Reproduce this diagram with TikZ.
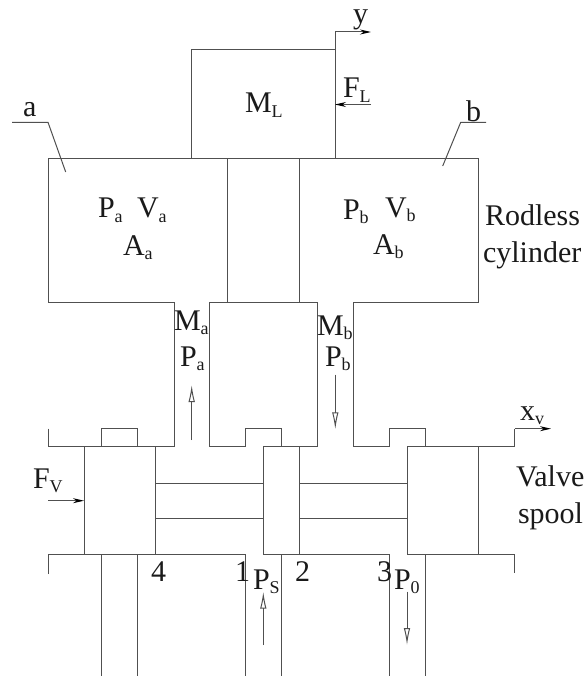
\documentclass[tikz,border=0pt]{standalone}
\usepackage{fontspec}
\setmainfont{Liberation Serif}
\usetikzlibrary{arrows.meta}
\newcommand\subt[2]{#1\raisebox{-4.5pt}{\fontsize{18}{18}\selectfont #2}}
\definecolor{ln}{HTML}{505050}
\definecolor{tx}{HTML}{1A1A1A}
\tikzset{
  wall/.style={draw=ln,line width=1pt,line join=miter},
  solidtip/.style={wall,-{Stealth[length=11pt,width=5pt,color=black]}},
  hollowtip/.style={wall,-{Latex[open,length=17pt,width=6.5pt]}},
  lab/.style={anchor=base west,inner sep=0pt,outer sep=0pt,text=tx,font=\fontsize{30}{30}\selectfont}
}
\begin{document}
\begin{tikzpicture}[x=1pt,y=-1pt]
\useasboundingbox (0,0) rectangle (586,676);
% load mass and y output
\draw[wall] (191.5,158.5) -- (191.5,50) -- (335,50);
\draw[wall] (335,158.5) -- (335,32);
\draw[solidtip] (335,32) -- (371,32);
\draw[solidtip] (371,104.5) -- (335,104.5);
% cylinder
\draw[wall] (174,446.7) -- (174,302.5) -- (48,302.5) -- (48,158.5) -- (478.7,158.5) -- (478.7,302.5) -- (353.3,302.5) -- (353.3,446.7);
\draw[wall] (227,158.5) -- (227,302.5) (299.5,158.5) -- (299.5,302.5);
\draw[wall] (209.3,446.7) -- (209.3,302.5) -- (317.3,302.5) -- (317.3,446.7);
% leaders
\draw[wall] (12,122.3) -- (48,122.3) -- (65.7,172);
\draw[wall] (486,122.3) -- (460.7,122.3) -- (442.7,166);
% upper valve body
\draw[wall] (48,428.7) -- (48,446.7) -- (101.5,446.7) -- (101.5,428.7) -- (137.7,428.7) -- (137.7,446.7) -- (174,446.7);
\draw[wall] (209.3,446.7) -- (245.3,446.7) -- (245.3,428.7) -- (281.3,428.7) -- (281.3,446.7) -- (317.3,446.7);
\draw[wall] (353.3,446.7) -- (389,446.7) -- (389,428.7) -- (425,428.7) -- (425,446.7) -- (514.7,446.7) -- (514.7,428.7);
\draw[solidtip] (514.7,428.7) -- (551,428.7);
% spools
\draw[wall] (84,446.7) rectangle (155.7,554.7);
\draw[wall] (263.3,446.7) rectangle (299.3,554.7);
\draw[wall] (407,446.7) rectangle (478.7,554.7);
\draw[wall] (155.7,483) -- (263.3,483) (155.7,518.7) -- (263.3,518.7);
\draw[wall] (299.3,483) -- (407,483) (299.3,518.7) -- (407,518.7);
% lower valve body
\draw[wall] (48,574) -- (48,554.7) -- (245.3,554.7) -- (245.3,676);
\draw[wall] (101.5,554.7) -- (101.5,676) (137.7,554.7) -- (137.7,676);
\draw[wall] (281.3,676) -- (281.3,554.7) -- (389,554.7) -- (389,676);
\draw[wall] (425,676) -- (425,554.7) -- (514.7,554.7) -- (514.7,573);
% force and flow arrows
\draw[solidtip] (48,500.7) -- (84,500.7);
\draw[hollowtip] (191.7,440) -- (191.7,385);
\draw[hollowtip] (335.3,374.7) -- (335.3,429.3);
\draw[hollowtip] (263.3,645) -- (263.3,591.7);
\draw[hollowtip] (407,591.7) -- (407,645);
% labels
\node[lab] (tML) at (245,113) {\subt{M}{L}};
\node[lab] (ta) at (23,117) {a};
\node[lab] (tb) at (466,122) {b};
\node[lab] (ty) at (353,24) {y};
\node[lab] (tFL) at (343,98) {\subt{F}{L}};
\node[lab] (tPa1) at (98,218) {\subt{P}{a}};
\node[lab] (tVa) at (137,218) {\subt{V}{a}};
\node[lab] (tAa) at (123,255) {\subt{A}{a}};
\node[lab] (tPb1) at (343,219) {\subt{P}{b}};
\node[lab] (tVb) at (385,217) {\subt{V}{b}};
\node[lab] (tAb) at (373,254) {\subt{A}{b}};
\node[lab] (tRod) at (485,225) {Rodless};
\node[lab] (tCyl) at (483,262) {cylinder};
\node[lab] (tMa) at (174,330) {\subt{M}{a}};
\node[lab] (tPa) at (180,366) {\subt{P}{a}};
\node[lab] (tMb) at (317,335) {\subt{M}{b}};
\node[lab] (tPb) at (325,366) {\subt{P}{b}};
\node[lab] (tFv) at (33,488) {\subt{F}{V}};
\node[lab] (txv) at (520,420) {\subt{x}{v}};
\node[lab] (tValve) at (516,486) {Valve};
\node[lab] (tSpool) at (518,523) {spool};
\node[lab] (t4) at (151,581) {4};
\node[lab] (t1) at (235,581) {1};
\node[lab] (tPs) at (253,589) {\subt{P}{S}};
\node[lab] (t2) at (295,581) {2};
\node[lab] (t3) at (377,581) {3};
\node[lab] (tP0) at (394,589) {\subt{P}{0}};
\end{tikzpicture}
\end{document}
